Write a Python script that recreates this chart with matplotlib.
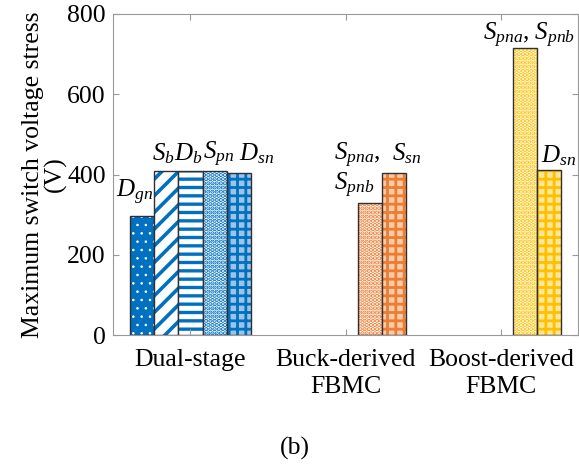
import numpy as np
import matplotlib
matplotlib.use('Agg')
from matplotlib import pyplot as plt

plt.rcParams['font.family'] = ['Liberation Serif', 'DejaVu Serif']
plt.rcParams['mathtext.fontset'] = 'custom'
plt.rcParams['mathtext.rm'] = 'Liberation Serif'
plt.rcParams['mathtext.it'] = 'Liberation Serif:italic'

# data (V)
groups = ['Dual-stage', 'Buck-derived\nFBMC', 'Boost-derived\nFBMC']
dual = [297, 409, 409, 410, 404]
buck = [np.nan, np.nan, np.nan, 329, 404]
boost = [np.nan, np.nan, np.nan, 715, 411]
colors = ['#0070C0', '#ED7D31', '#FFC000']
tints = ['#9DC3E6', '#F8CBAD', '#FFE699']

# bar labels: (group, series, text, dx px from bar left, dy px above bar top)
labels = [
    (0, 0, r'$D_{gn}$', -14, 18),
    (0, 1, r'$S_{b}$', -2, 11),
    (0, 2, r'$D_{b}$', -4, 11),
    (0, 3, r'$S_{pn}$', 0, 11),
    (0, 4, r'$D_{sn}$', 12, 13),
    (1, 3, r'$S_{pna}$,', -24, 43),
    (1, 3, r'$S_{pnb}$', -24, 13),
    (1, 4, r'$S_{sn}$', 10, 13),
    (2, 3, r'$S_{pna}$, $S_{pnb}$', -30, 8),
    (2, 4, r'$D_{sn}$', 4, 8),
]

# per series: (hatch, face, hatch colour, hatch linewidth)
styles = [('..', 'c', 'white', 0.6), ('//', 'white', 'c', 2.6), ('--', 'white', 'c', 2.4),
          ('....', 'white', 'c', 2.2), ('++', 't', 'c', 2.0)]

fs = 18.5
fig = plt.figure(figsize=(5.79, 4.66), dpi=100)
ax = fig.add_axes([0.195, 0.281, 0.804, 0.689])

data = [dual, buck, boost]
w = 0.155
x = np.arange(1, 4)


def pick(k, g):
    return {'c': colors[g], 't': tints[g]}.get(k, k)


for g in range(3):
    for s in range(5):
        v = data[g][s]
        if np.isnan(v):
            continue
        xc = x[g] + (s - 2) * w
        h, fc, hc, hlw = styles[s]
        with plt.rc_context({'hatch.linewidth': hlw}):
            b = ax.bar(xc, v, w, color=pick(fc, g), edgecolor=pick(hc, g), hatch=h, linewidth=0)
        for p in b:
            if hasattr(p, 'set_hatch_linewidth'):
                p.set_hatch_linewidth(hlw)
        ax.bar(xc, v, w, fill=False, edgecolor='#303030', linewidth=1.0)

for g, s, txt, dx, dy in labels:
    xl = x[g] + (s - 2) * w - w / 2
    ax.annotate(txt, (xl, data[g][s]), xytext=(dx, dy), textcoords='offset pixels',
                ha='left', va='baseline', fontsize=18)

ax.set_xlim(0.5, 3.5)
ax.set_ylim(0, 800)
ax.set_xticks(x)
ax.set_xticklabels(groups, fontsize=fs, linespacing=1.3)
ax.set_yticks([0, 200, 400, 600, 800])
ax.tick_params(axis='both', direction='in', length=4, color='#999999', labelsize=fs,
               top=True, right=True)
ax.tick_params(axis='x', pad=10)
ax.tick_params(axis='y', pad=5)
for sp in ax.spines.values():
    sp.set_color('#999999')
    sp.set_linewidth(0.8)
ax.set_ylabel('Maximum switch voltage stress\n(V)', fontsize=fs, labelpad=0, linespacing=1.0)

fig.text(0.51, 1 - 448 / 466, '(b)', ha='center', va='center', fontsize=fs)

fig.savefig('out.png', dpi=100)
